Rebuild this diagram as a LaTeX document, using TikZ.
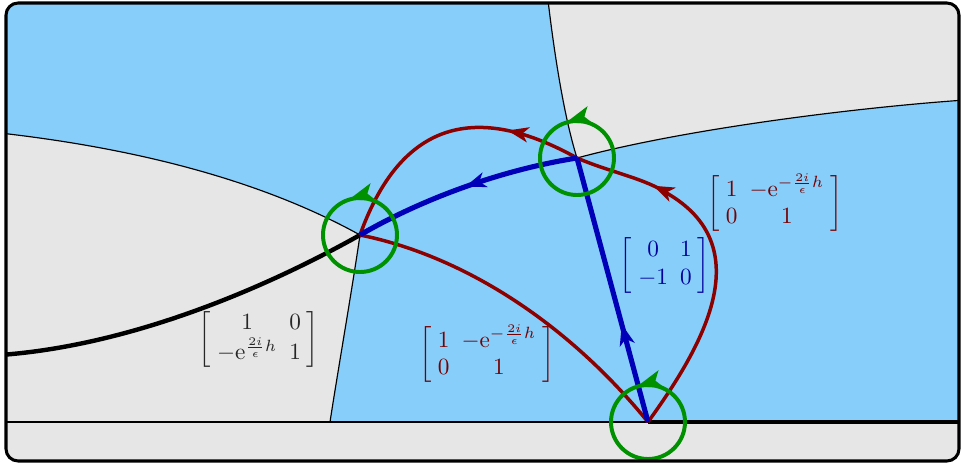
\documentclass[tikz,border=0pt]{standalone}
\usepackage{amsmath}
\usetikzlibrary{arrows.meta,decorations.markings,calc}
\definecolor{skyfill}{RGB}{135,206,250}
\definecolor{grayfill}{RGB}{230,230,230}
\definecolor{cred}{RGB}{140,0,0}
\definecolor{cblue}{RGB}{0,0,185}
\definecolor{cgreen}{RGB}{0,145,0}
\setlength{\arraycolsep}{2.6pt}
\tikzset{
  thinline/.style={line width=0.5pt, black},
  thickline/.style={line width=1.9pt, black},
  redpath/.style={line width=1.5pt, cred},
  bluepath/.style={line width=2.2pt, cblue},
  loopcirc/.style={line width=1.7pt, cgreen, postaction=decorate,
    decoration={markings, mark=at position 0.3 with {\arrow{Stealth[length=11pt,width=7.5pt,inset=2.5pt]}}}},
  marr/.style={decoration={markings, mark=at position #1 with {\arrow{Stealth[length=9pt,width=6.5pt,inset=2.5pt]}}}, postaction=decorate},
  mat/.style={inner sep=0pt, font=\normalsize}
}
\begin{document}
\begin{tikzpicture}[x=0.43pt,y=-0.43pt]
\useasboundingbox (0,0) rectangle (962,466);
\coordinate (A) at (360,235);
\coordinate (B) at (577,158);
\coordinate (C) at (648,422);
\coordinate (tl) at (548,0);
\coordinate (tr) at (965,100);
\coordinate (lt) at (0,133);
\coordinate (lb) at (330,422);
\coordinate (ll) at (0,355);
\coordinate (hl) at (0,422);
\coordinate (hr) at (965,422);
\begin{scope}
  \clip[rounded corners=5.2pt] (6,3) rectangle (959,461);
  \fill[skyfill] (0,0) rectangle (966,470);
  \fill[grayfill] (tl) .. controls (555,60) and (565,120) .. (B)
     .. controls (680,130) and (850,108) .. (tr) -- (966,0) -- cycle;
  \fill[grayfill] (lt) .. controls (150,150) and (270,185) .. (A)
     .. controls (352,290) and (338,370) .. (lb) -- (hl) -- cycle;
  \fill[grayfill] (hl) rectangle (966,470);
  \draw[thinline] (tl) .. controls (555,60) and (565,120) .. (B);
  \draw[thinline] (B) .. controls (680,130) and (850,108) .. (tr);
  \draw[thinline] (lt) .. controls (150,150) and (270,185) .. (A);
  \draw[thinline] (A) .. controls (352,290) and (338,370) .. (lb);
  \draw[thinline] (hl) -- (C);
  \draw[thickline] (C) -- (hr);
  \draw[thickline] (A) .. controls (280,280) and (140,345) .. (ll);
\end{scope}
% red paths
\draw[redpath] (A) .. controls (460,255) and (565,320) .. (C);
\draw[redpath, decoration={markings,
   mark=at position 0.44 with {\arrow{Stealth[length=9pt,width=6.5pt,inset=2.5pt]}},
   mark=at position 0.685 with {\arrow{Stealth[length=9pt,width=6.5pt,inset=2.5pt]}}}, postaction=decorate]
  (C) .. controls (700,350) and (760,250) .. (670,195)
      .. controls (645,178) and (612,173) .. (B)
      .. controls (505,118) and (410,95) .. (A);
% blue paths
\draw[bluepath, marr=0.5] (B) .. controls (500,170) and (420,200) .. (A);
\draw[bluepath, marr=0.37] (C) -- (B);
% green loops
\draw[loopcirc] ($(A)+(37,0)$) arc[start angle=0, end angle=-360, radius=37];
\draw[loopcirc] ($(B)+(37,0)$) arc[start angle=0, end angle=-360, radius=37];
\draw[loopcirc] ($(C)+(37,0)$) arc[start angle=0, end angle=-360, radius=37];
% matrices
\node[mat, text=black!85] (mblack) at (259,339) {$\left[\begin{array}{cc} 1 & 0 \\ -\mathrm{e}^{\frac{2i}{\epsilon}h} & 1\end{array}\right]$};
\node[mat, text=cred!85!black] (mredlow) at (487,354) {$\left[\begin{array}{cc} 1 & -\mathrm{e}^{-\frac{2i}{\epsilon}h} \\ 0 & 1\end{array}\right]$};
\node[mat, text=cblue!85!black] (mblue) at (665,265) {$\left[\begin{array}{cc} 0 & 1 \\ -1 & 0\end{array}\right]$};
\node[mat, text=cred!85!black] (mredup) at (775,203) {$\left[\begin{array}{cc} 1 & -\mathrm{e}^{-\frac{2i}{\epsilon}h} \\ 0 & 1\end{array}\right]$};
% frame
\draw[line width=1.3pt, rounded corners=5.2pt] (6,3) rectangle (959,461);
\end{tikzpicture}
\end{document}
